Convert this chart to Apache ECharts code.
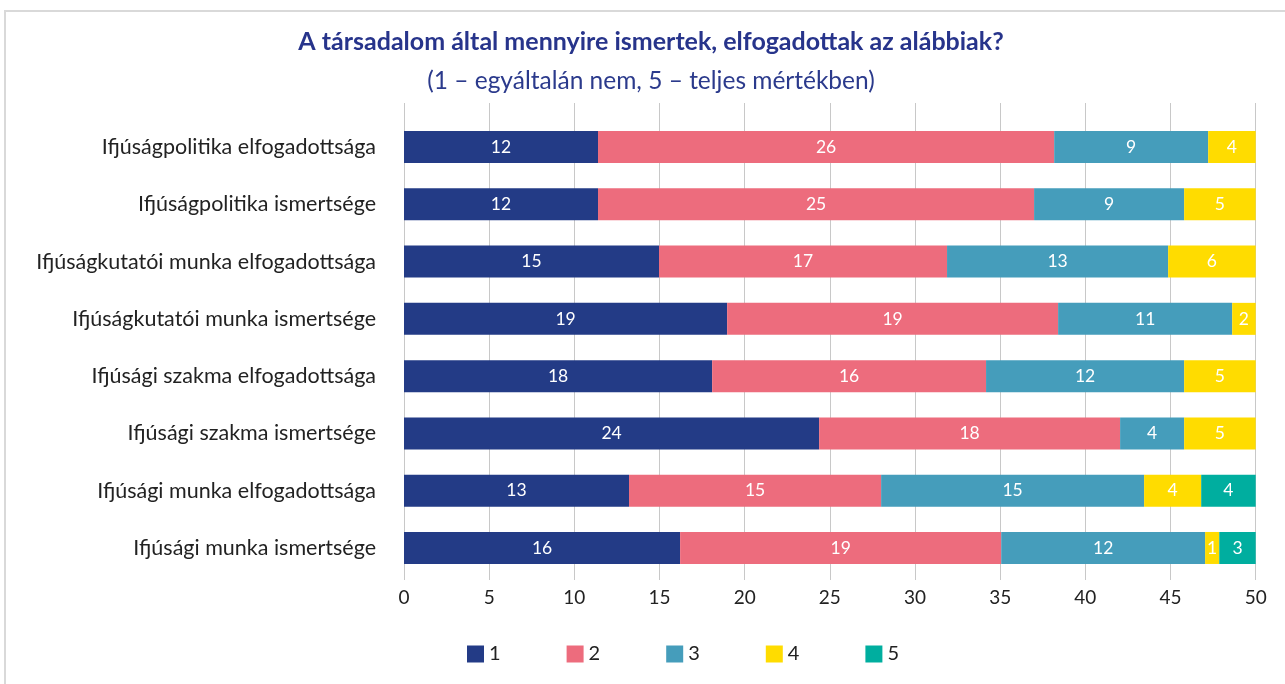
<!DOCTYPE html>
<html>
<head>
  <meta charset="utf-8" />
  <title>ECharts</title>
  <style>
    body { margin: 0; background: #ffffff; }
    /* keret bal és felső széle */
    #frame { position: absolute; left: 4px; top: 10px; width: 1400px; height: 800px;
             border-left: 2px solid #d9d9d9; border-top: 2px solid #d9d9d9; }
    #main { position: absolute; left: 0; top: 0; width: 1285px; height: 684px; }
  </style>
  <script src="https://cdn.jsdelivr.net/npm/echarts@6/dist/echarts.min.js"></script>
</head>
<body>
  <div id="frame"></div>
  <div id="main"></div>
  <script type="text/javascript">
    var categories = [
      'Ifjúságpolitika elfogadottsága',
      'Ifjúságpolitika ismertsége',
      'Ifjúságkutatói munka elfogadottsága',
      'Ifjúságkutatói munka ismertsége',
      'Ifjúsági szakma elfogadottsága',
      'Ifjúsági szakma ismertsége',
      'Ifjúsági munka elfogadottsága',
      'Ifjúsági munka ismertsége'
    ];
    var seriesNames = ['1', '2', '3', '4', '5'];
    var colors = ['#233b86', '#ed6c7d', '#459dbb', '#ffdc00', '#00ae9f'];

    // szegmensek hossza
    var len1 = [11.39, 11.39, 14.97, 18.97, 18.09, 24.37, 13.21, 16.21];
    var len2 = [26.78, 25.60, 16.91, 19.43, 16.08, 17.67, 14.80, 18.85];
    var len3 = [9.04, 8.81, 12.98, 10.22, 11.63, 3.76, 15.44, 11.97];
    var len4 = [2.79, 4.20, 5.14, 1.38, 4.20, 4.20, 3.35, 0.83];
    var len5 = [null, null, null, null, null, null, 3.20, 2.14];

    // a szegmenseken kiírt értékek
    var lab1 = [12, 12, 15, 19, 18, 24, 13, 16];
    var lab2 = [26, 25, 17, 19, 16, 18, 15, 19];
    var lab3 = [9, 9, 13, 11, 12, 4, 15, 12];
    var lab4 = [4, 5, 6, 2, 5, 5, 4, 1];
    var lab5 = [null, null, null, null, null, null, 4, 3];

    var xTicks = [0, 5, 10, 15, 20, 25, 30, 35, 40, 45, 50];

    var lens = [len1, len2, len3, len4, len5];
    var labs = [lab1, lab2, lab3, lab4, lab5];

    var font = 'Lato, "Open Sans", sans-serif';
    var myChart = echarts.init(document.getElementById('main'), null, { renderer: 'canvas' });

    var series = [];
    for (let i = 0; i < seriesNames.length; i++) {
      series.push({
        name: seriesNames[i],
        type: 'bar',
        stack: 'total',
        xAxisIndex: 1,
        yAxisIndex: 1,
        barWidth: 32,
        itemStyle: { color: colors[i] },
        label: {
          show: true,
          position: 'inside',
          color: '#ffffff',
          fontSize: 17.5,
          fontFamily: font,
          formatter: function (p) {
            var v = labs[i][p.dataIndex];
            return v == null ? '' : String(v);
          }
        },
        data: lens[i]
      });
    }

    var option = {
      animation: false,
      color: colors,
      graphic: [
        {
          type: 'text', x: 651, y: 42,
          style: {
            text: 'A társadalom által mennyire ismertek, elfogadottak az alábbiak?',
            font: 'bold 25px ' + font, fill: '#27348b',
            align: 'center', verticalAlign: 'middle',
            textAlign: 'center', textVerticalAlign: 'middle'
          }
        },
        {
          type: 'text', x: 651, y: 81,
          style: {
            text: '(1 – egyáltalán nem, 5 – teljes mértékben)',
            font: '24.5px ' + font, fill: '#2b3a8c',
            align: 'center', verticalAlign: 'middle',
            textAlign: 'center', textVerticalAlign: 'middle'
          }
        }
      ],
      legend: {
        data: seriesNames,
        left: 462,
        top: 639,
        icon: 'rect',
        itemWidth: 17,
        itemHeight: 17,
        itemGap: 66,
        textStyle: { fontSize: 20, color: '#222222', fontFamily: font }
      },
      grid: [
        // rácsvonalak
        { left: 404, right: 29.3, top: 103, bottom: 104 },
        // oszlopok
        { left: 404, right: 29.3, top: 118.4, bottom: 107.4 }
      ],
      xAxis: [
        {
          gridIndex: 0,
          type: 'value',
          min: xTicks[0],
          max: xTicks[xTicks.length - 1],
          interval: 5,
          axisLine: { show: false },
          axisTick: { show: false },
          axisLabel: { fontSize: 19, color: '#222222', fontFamily: font, margin: 8 },
          splitLine: { show: true, lineStyle: { color: '#c8c8c8', width: 1 } }
        },
        {
          gridIndex: 1,
          type: 'value',
          min: 0,
          max: 50,
          show: false,
          splitLine: { show: false }
        }
      ],
      yAxis: [
        { gridIndex: 0, type: 'value', show: false, splitLine: { show: false } },
        {
          gridIndex: 1,
          type: 'category',
          inverse: true,
          data: categories,
          axisLine: { show: false },
          axisTick: { show: false },
          axisLabel: { fontSize: 21.5, color: '#222222', fontFamily: font, margin: 28 },
          splitLine: { show: false }
        }
      ],
      series: series
    };
    myChart.setOption(option);
  </script>
</body>
</html>
